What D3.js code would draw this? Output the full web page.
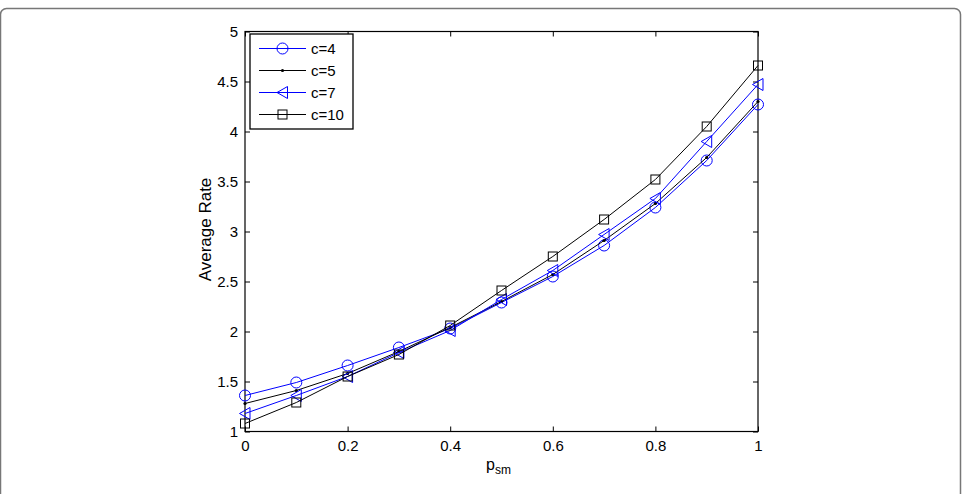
<!DOCTYPE html>
<html>
<head>
<meta charset="utf-8">
<script src="https://d3js.org/d3.v7.min.js"></script>
<style>
  body { margin: 0; background: #fff; }
  svg text { font-family: "Liberation Sans", Arial, sans-serif; }
</style>
</head>
<body>
<div id="chart"></div>
<script>
const xValues = [0, 0.1, 0.2, 0.3, 0.4, 0.5, 0.6, 0.7, 0.8, 0.9, 1];
const c4  = [1.36, 1.49, 1.66, 1.84, 2.03, 2.29, 2.55, 2.86, 3.24, 3.71, 4.27];
const c5  = [1.28, 1.41, 1.58, 1.80, 2.04, 2.30, 2.57, 2.91, 3.28, 3.74, 4.30];
const c7  = [1.18, 1.36, 1.55, 1.79, 2.01, 2.32, 2.61, 2.97, 3.33, 3.90, 4.47];
const c10 = [1.08, 1.29, 1.55, 1.77, 2.06, 2.41, 2.75, 3.12, 3.52, 4.05, 4.66];
const seriesNames = ["c=4", "c=5", "c=7", "c=10"];
const xTicks = [0, 0.2, 0.4, 0.6, 0.8, 1];
const yTicks = [1, 1.5, 2, 2.5, 3, 3.5, 4, 4.5, 5];

const series = [
  { name: seriesNames[0], values: c4, color: "#0000ff", marker: "circle" },
  { name: seriesNames[1], values: c5, color: "#000000", marker: "dot" },
  { name: seriesNames[2], values: c7, color: "#0000ff", marker: "triangle" },
  { name: seriesNames[3], values: c10, color: "#000000", marker: "square" }
];

const width = 962, height = 494;
const margin = { top: 31.5, right: 204, bottom: 62.5, left: 245 };
const w = width - margin.left - margin.right;
const h = height - margin.top - margin.bottom;

const svg = d3.select("#chart").append("svg")
  .attr("width", width)
  .attr("height", height);

// outer frame of the figure panel
svg.append("rect")
  .attr("x", 0.5).attr("y", 8.5)
  .attr("width", 960).attr("height", 500)
  .attr("rx", 6)
  .attr("fill", "none")
  .attr("stroke", "#777")
  .attr("stroke-width", 1.5);

const g = svg.append("g")
  .attr("transform", `translate(${margin.left},${margin.top})`);

const x = d3.scaleLinear().domain([0, 1]).range([0, w]);
const y = d3.scaleLinear().domain([1, 5]).range([h, 0]);

// axes, ticks inward on all four sides
const tickLen = 5;
g.append("g")
  .attr("transform", `translate(0,${h})`)
  .call(d3.axisBottom(x).tickValues(xTicks).tickSizeInner(-tickLen).tickSizeOuter(0).tickPadding(9).tickFormat(d3.format("")))
  .call(a => a.select(".domain").remove());
g.append("g")
  .call(d3.axisLeft(y).tickValues(yTicks).tickSizeInner(-tickLen).tickSizeOuter(0).tickPadding(7).tickFormat(d3.format("")))
  .call(a => a.select(".domain").remove());
g.append("g")
  .call(d3.axisTop(x).tickValues(xTicks).tickSizeInner(-tickLen).tickSizeOuter(0).tickFormat(""))
  .call(a => a.select(".domain").remove());
g.append("g")
  .attr("transform", `translate(${w},0)`)
  .call(d3.axisRight(y).tickValues(yTicks).tickSizeInner(-tickLen).tickSizeOuter(0).tickFormat(""))
  .call(a => a.select(".domain").remove());

g.selectAll(".tick text")
  .attr("font-size", 15)
  .attr("fill", "#000");
g.selectAll(".tick line").attr("stroke", "#000");

g.append("rect")
  .attr("width", w).attr("height", h)
  .attr("fill", "none")
  .attr("stroke", "#000")
  .attr("stroke-width", 1.2);

// axis labels
g.append("text")
  .attr("transform", `translate(${-34},${h / 2 - 2}) rotate(-90)`)
  .attr("text-anchor", "middle")
  .attr("font-size", 17)
  .text("Average Rate");

const xl = g.append("text")
  .attr("x", w / 2 - 3)
  .attr("y", h + 38)
  .attr("text-anchor", "middle")
  .attr("font-size", 16);
xl.append("tspan").text("p");
xl.append("tspan").attr("font-size", 12).attr("dy", 4).text("sm");

function drawMarker(sel, type, color) {
  if (type === "circle") {
    sel.append("circle").attr("r", 5.5).attr("fill", "none").attr("stroke", color);
  } else if (type === "dot") {
    sel.append("circle").attr("r", 1.6).attr("fill", color);
  } else if (type === "triangle") {
    sel.append("path").attr("d", "M-5.5,0L5,-6L5,6Z").attr("fill", "none").attr("stroke", color);
  } else if (type === "square") {
    sel.append("rect").attr("x", -4.5).attr("y", -4.5).attr("width", 9).attr("height", 9)
      .attr("fill", "none").attr("stroke", color);
  }
}

const line = d3.line()
  .x((d, i) => x(xValues[i]))
  .y(d => y(d));

series.forEach(s => {
  g.append("path")
    .datum(s.values)
    .attr("fill", "none")
    .attr("stroke", s.color)
    .attr("stroke-width", 1)
    .attr("d", line);
  s.values.forEach((v, i) => {
    const m = g.append("g").attr("transform", `translate(${x(xValues[i])},${y(v)})`);
    drawMarker(m, s.marker, s.color);
  });
});

// legend
const legend = g.append("g").attr("transform", "translate(5,2.5)");
legend.append("rect")
  .attr("width", 103).attr("height", 95)
  .attr("fill", "#fff")
  .attr("stroke", "#000")
  .attr("stroke-width", 1.3);
series.forEach((s, i) => {
  const row = legend.append("g").attr("transform", `translate(0,${14.5 + i * 22})`);
  row.append("line")
    .attr("x1", 9).attr("x2", 56)
    .attr("stroke", s.color);
  const m = row.append("g").attr("transform", "translate(32.5,0)");
  drawMarker(m, s.marker, s.color);
  row.append("text")
    .attr("x", 61).attr("dy", "0.36em")
    .attr("font-size", 15)
    .text(s.name);
});
</script>
</body>
</html>
